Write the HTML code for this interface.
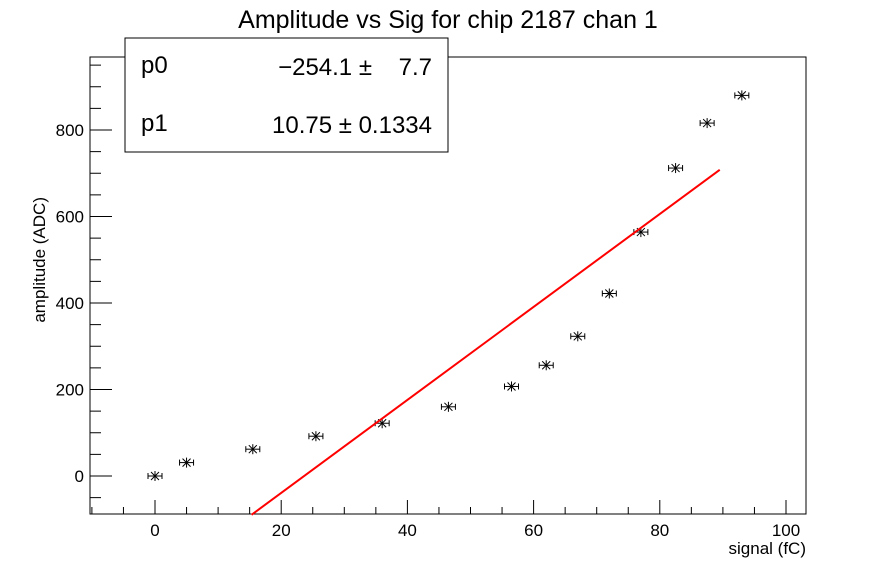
<!DOCTYPE html>
<html><head><meta charset="utf-8"><style>
body{margin:0;background:#fff;}
svg{font-family:"Liberation Sans",Arial,sans-serif;}
</style></head><body>
<svg id="c" width="896" height="572" xmlns="http://www.w3.org/2000/svg">
<rect width="896" height="572" fill="#fff"/>
<text x="448" y="28" font-size="25" text-anchor="middle">Amplitude vs Sig for chip 2187 chan 1</text>
<rect x="90" y="57" width="716" height="457" fill="none" stroke="#000" stroke-width="1"/>
<g id="axes"></g>
<g id="marks"></g>
<text x="806" y="554" font-size="17" text-anchor="end">signal (fC)</text>
<text transform="translate(45,197) rotate(-90)" font-size="17" text-anchor="end">amplitude (ADC)</text>
<g>
<rect x="125" y="38" width="323" height="114" fill="#fff" stroke="#000" stroke-width="1"/>
<text x="141" y="73" font-size="24">p0</text>
<text x="372" y="75" font-size="24" text-anchor="end">−254.1 ±</text>
<text x="432" y="75" font-size="24" text-anchor="end">7.7</text>
<text x="141" y="131" font-size="24">p1</text>
<text x="432" y="133" font-size="24" text-anchor="end">10.75 ± 0.1334</text>
</g>
</svg>
<script>
const xs=[0,5,15.5,25.5,36,46.5,56.5,62,67,72,77,82.5,87.5,93];
const ys=[0,31,62,92,122,160,207,256,323,422,564,712,816,880];
const fitP0=-254.1, fitP1=10.75, fitXmin=15.3, fitXmax=89.5;
const xTicks=[0,20,40,60,80,100];
const yTicks=[0,200,400,600,800];
const NS="http://www.w3.org/2000/svg";
const X=v=>155+(v)*6.31;
const Y=v=>476-v*0.4325;
function mk(t,a,p){const e=document.createElementNS(NS,t);for(const k in a)e.setAttribute(k,a[k]);p.appendChild(e);return e;}
const ax=document.getElementById('axes'),mg=document.getElementById('marks');
for(let v=-10;v<=100;v+=5){const x=X(v);const maj=v%20===0;
 const l=mk('line',{x1:x,x2:x,y1:514,y2:514-(maj?14:7),stroke:'#000'},ax);
 
 }
xTicks.forEach(v=>{const t=mk('text',{x:X(v),y:536,'font-size':17,'text-anchor':'middle'},ax);t.textContent=v;
 
 });
for(let v=-50;v<=950;v+=50){const y=Y(v);const maj=v%200===0;
 const l=mk('line',{x1:90,x2:90+(maj?22:11),y1:y,y2:y,stroke:'#000'},ax);
 
 }
yTicks.forEach(v=>{const t=mk('text',{x:84,y:Y(v)+6,'font-size':17,'text-anchor':'end'},ax);t.textContent=v;
 
 });
xs.forEach((xv,i)=>{const x=X(xv),y=Y(ys[i]);const g=mk('g',{stroke:'#000','stroke-width':1},mg);
 
 
 mk('line',{x1:x-7,x2:x+7,y1:y,y2:y},g);
 mk('line',{x1:x-7,x2:x-7,y1:y-3,y2:y+3},g);
 mk('line',{x1:x+7,x2:x+7,y1:y-3,y2:y+3},g);
 mk('line',{x1:x,x2:x,y1:y-5,y2:y+5},g);
 mk('line',{x1:x-4,x2:x+4,y1:y-4,y2:y+4},g);
 mk('line',{x1:x-4,x2:x+4,y1:y+4,y2:y-4},g);});
const f=mk('line',{x1:X(fitXmin),y1:Y(fitP0+fitP1*fitXmin),x2:X(fitXmax),y2:Y(fitP0+fitP1*fitXmax),stroke:'#f00','stroke-width':2},mg);


</script>
</body></html>
